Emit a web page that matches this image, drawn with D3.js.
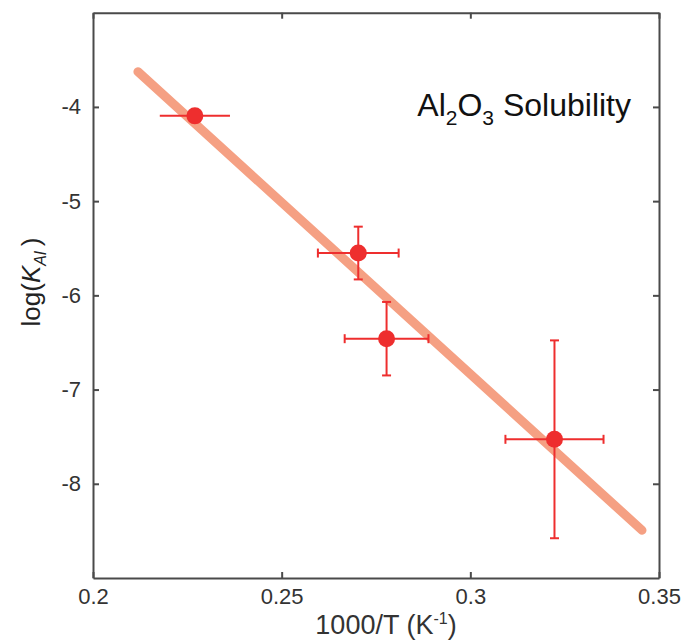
<!DOCTYPE html>
<html>
<head>
<meta charset="utf-8">
<script src="https://cdn.jsdelivr.net/npm/d3@7"></script>
<style>
  body { margin: 0; background: #fff; }
  text { font-family: "Liberation Sans", Arial, Helvetica, sans-serif; }
</style>
</head>
<body>
<div id="chart-area"></div>
<script>
// measured points: 1000/T, log(K_Al) and their errors
var invT = [0.2270, 0.2703, 0.2778, 0.3223];
var logK = [-4.095, -5.551, -6.460, -7.528];
var xErr = [0.0093, 0.0107, 0.0111, 0.0130];
var yErr = [0, 0.28, 0.39, 1.05];
var hasCaps = [false, true, true, true];

// fitted line end points
var fitX = [0.2119, 0.3455];
var fitY = [-3.626, -8.493];

var xTicks = [0.2, 0.25, 0.3, 0.35];
var yTicks = [-4, -5, -6, -7, -8];

var width = 688, height = 644;
var margin = { left: 93, top: 12.7, right: 29, bottom: 66 };

var svg = d3.select('#chart-area').append('svg')
  .attr('width', width)
  .attr('height', height);

var x = d3.scaleLinear()
  .domain([0.2, 0.35])
  .range([margin.left, width - margin.right]);

var y = d3.scaleLinear()
  .domain([-9, -3])
  .range([height - margin.bottom, margin.top]);

var frameColor = '#4a4a4a';
var red = '#ee2e2e';

// axes, ticks pointing inward
var xBottom = svg.append('g')
  .attr('transform', 'translate(0,' + y(-9) + ')')
  .call(d3.axisBottom(x).tickValues(xTicks).tickSizeInner(-6).tickSizeOuter(0).tickPadding(10)
    .tickFormat(function(d) { return String(d); }));

var xTop = svg.append('g')
  .attr('transform', 'translate(0,' + y(-3) + ')')
  .call(d3.axisTop(x).tickValues(xTicks).tickSizeInner(-6).tickSizeOuter(0).tickFormat(''));

var yLeft = svg.append('g')
  .attr('transform', 'translate(' + x(0.2) + ',0)')
  .call(d3.axisLeft(y).tickValues(yTicks).tickSizeInner(-6).tickSizeOuter(0).tickPadding(12)
    .tickFormat(function(d) { return String(d); }));

var yRight = svg.append('g')
  .attr('transform', 'translate(' + x(0.35) + ',0)')
  .call(d3.axisRight(y).tickValues(yTicks).tickSizeInner(-6).tickSizeOuter(0).tickFormat(''));

svg.selectAll('.domain').attr('stroke', frameColor).attr('stroke-width', 2);
svg.selectAll('.tick line').attr('stroke', frameColor).attr('stroke-width', 2);
svg.selectAll('.tick text')
  .attr('fill', '#333')
  .style('font-size', '22px');
xBottom.selectAll('.tick text').attr('dy', '0.71em');
yLeft.selectAll('.tick text').attr('text-anchor', 'end');

// fit line
svg.append('line')
  .attr('x1', x(fitX[0]))
  .attr('y1', y(fitY[0]))
  .attr('x2', x(fitX[1]))
  .attr('y2', y(fitY[1]))
  .attr('stroke', '#f5a083')
  .attr('stroke-width', 9)
  .attr('stroke-linecap', 'round');

// error bars
var cap = 4.5;
var pts = invT.map(function(d, i) {
  return { x: d, y: logK[i], xe: xErr[i], ye: yErr[i], caps: hasCaps[i] };
});

var eb = svg.append('g')
  .attr('stroke', red)
  .attr('stroke-width', 2)
  .attr('fill', 'none');

pts.forEach(function(p) {
  eb.append('line')
    .attr('x1', x(p.x - p.xe)).attr('x2', x(p.x + p.xe))
    .attr('y1', y(p.y)).attr('y2', y(p.y));
  if (p.ye > 0) {
    eb.append('line')
      .attr('x1', x(p.x)).attr('x2', x(p.x))
      .attr('y1', y(p.y - p.ye)).attr('y2', y(p.y + p.ye));
  }
  if (p.caps) {
    [p.x - p.xe, p.x + p.xe].forEach(function(v) {
      eb.append('line')
        .attr('x1', x(v)).attr('x2', x(v))
        .attr('y1', y(p.y) - cap).attr('y2', y(p.y) + cap);
    });
    [p.y - p.ye, p.y + p.ye].forEach(function(v) {
      eb.append('line')
        .attr('x1', x(p.x) - cap).attr('x2', x(p.x) + cap)
        .attr('y1', y(v)).attr('y2', y(v));
    });
  }
});

svg.selectAll('circle.pt')
  .data(pts)
  .enter()
  .append('circle')
    .attr('class', 'pt')
    .attr('cx', function(d) { return x(d.x); })
    .attr('cy', function(d) { return y(d.y); })
    .attr('r', 8.5)
    .attr('fill', red);

// labels
var xl = svg.append('text')
  .attr('x', 386)
  .attr('y', 634)
  .attr('text-anchor', 'middle')
  .attr('fill', '#333')
  .style('font-size', '27px');
xl.append('tspan').text('1000/T (K');
xl.append('tspan').attr('dy', -10).style('font-size', '16px').text('-1');
xl.append('tspan').attr('dy', 10).text(')');

var yl = svg.append('text')
  .attr('transform', 'translate(40,282) rotate(-90)')
  .attr('text-anchor', 'middle')
  .attr('fill', '#222')
  .style('font-size', '26px');
yl.append('tspan').text('log(');
yl.append('tspan').text('K').style('font-style', 'italic');
yl.append('tspan').attr('dy', 6).style('font-size', '16px').style('font-style', 'italic').text('Al');
yl.append('tspan').attr('dy', -6).text('\u2009)');

var title = svg.append('text')
  .attr('x', 631)
  .attr('y', 116)
  .attr('text-anchor', 'end')
  .attr('fill', '#111')
  .style('font-size', '32px');
title.append('tspan').text('Al');
title.append('tspan').attr('dy', 9).style('font-size', '21px').text('2');
title.append('tspan').attr('dy', -9).text('O');
title.append('tspan').attr('dy', 9).style('font-size', '21px').text('3');
title.append('tspan').attr('dy', -9).text(' Solubility');
</script>
</body>
</html>
